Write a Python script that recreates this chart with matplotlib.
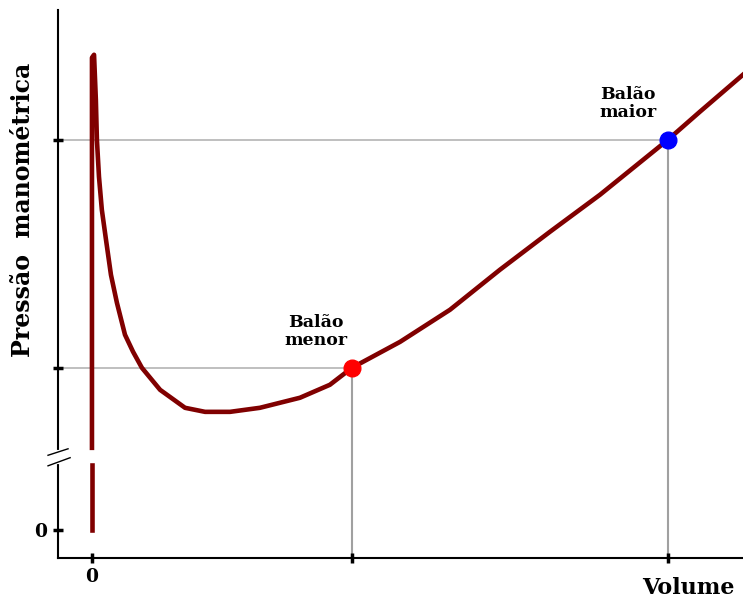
import matplotlib
matplotlib.use("Agg")
import matplotlib.pyplot as plt

# Curva pressão x volume (unidades arbitrárias)
curva_baixo_x = [0, 0]
curva_baixo_y = [0, 4.0]

curva_x = [0, 0, 0.08, 0.15, 0.19, 0.27, 0.38, 0.54, 0.73, 0.96, 1.27, 1.58, 1.92,
           2.62, 3.58, 4.35, 5.31, 6.46, 8.0, 9.15, 10.0, 11.85, 13.77, 15.69,
           17.62, 19.54, 22.15, 23.38, 25.04]
curva_y = [5.06, 29.14, 29.32, 26.54, 24.07, 21.79, 19.75, 17.90, 15.74, 14.01, 12.04, 10.99, 10.0,
           8.64, 7.53, 7.28, 7.28, 7.53, 8.15, 8.95, 10.0, 11.60, 13.58, 16.05,
           18.40, 20.68, 24.07, 25.80, 28.09]

# Os dois balões
baloes_v = [10.0, 22.15]
baloes_p = [10.0, 24.07]
baloes_cor = ["#ff0000", "#0000ff"]
baloes_nome = ["Balão\nmenor", "Balão\nmaior"]

xticks = [0, 10.0, 22.15]
yticks = [0, 10.0, 24.07]

fonte = "DejaVu Serif"

fig = plt.figure(figsize=(7.43, 6.07), dpi=100)
ax = fig.add_axes([0.078, 0.081, 0.922, 0.903])
ax.set_xlim(-1.308, 25.04)
ax.set_ylim(-1.73, 32.1)

# linhas guia cinzas
for v, p in zip(baloes_v, baloes_p):
    ax.plot([-1.308, v], [p, p], color="#b4b4b4", lw=1.2, zorder=1)
    ax.plot([v, v], [-1.73, p], color="#a0a0a0", lw=1.5, zorder=1)

ax.plot(curva_baixo_x, curva_baixo_y, color="#800000", lw=3.3, zorder=2)
ax.plot(curva_x, curva_y, color="#800000", lw=3.3, zorder=2,
        solid_joinstyle="round")

for v, p, c in zip(baloes_v, baloes_p, baloes_cor):
    ax.plot(v, p, "o", color=c, markersize=12, zorder=3)

ax.text(8.6, 12.25, baloes_nome[0], ha="center", va="center", fontsize=12.5,
        fontweight="bold", family=fonte, linespacing=1.05)
ax.text(20.6, 26.3, baloes_nome[1], ha="center", va="center", fontsize=12.5,
        fontweight="bold", family=fonte, linespacing=1.05)

ax.spines["top"].set_visible(False)
ax.spines["right"].set_visible(False)
ax.spines["left"].set_linewidth(1.5)
ax.spines["bottom"].set_linewidth(1.5)

ax.set_xticks(xticks)
ax.set_xticklabels(["0", "", ""])
ax.set_yticks(yticks)
ax.set_yticklabels(["0", "", ""])
ax.tick_params(axis="both", direction="inout", length=7, width=2.5,
               labelsize=13.5, pad=4)
for lab in ax.get_xticklabels() + ax.get_yticklabels():
    lab.set_fontfamily(fonte)
    lab.set_fontweight("bold")

# quebra do eixo y
ax.plot([-1.308, -1.308], [4.2, 4.81], color="white", lw=3, clip_on=False, zorder=4)
ax.plot([-1.69, -0.92], [4.6, 5.0], color="black", lw=1, clip_on=False, zorder=5)
ax.plot([-1.69, -0.84], [3.95, 4.45], color="black", lw=1, clip_on=False, zorder=5)

ax.set_ylabel("Pressão  manométrica", fontsize=17, fontweight="bold",
              family=fonte)
ax.yaxis.set_label_coords(-0.034, 0.635)
ax.set_xlabel("Volume", fontsize=16, fontweight="bold", family=fonte)
ax.xaxis.set_label_coords(0.92, -0.035)

fig.savefig("out.png", dpi=100)
